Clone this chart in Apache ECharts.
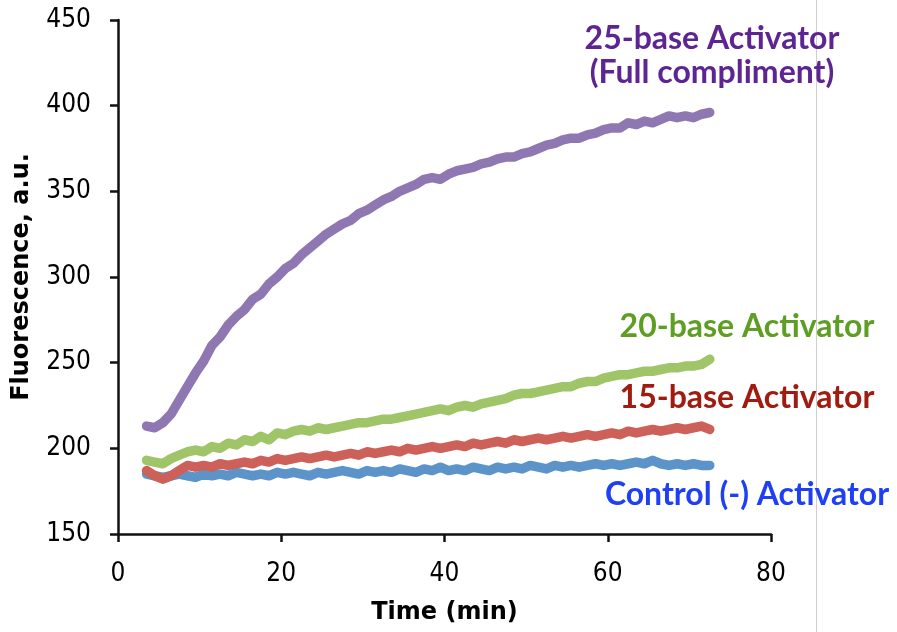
<!DOCTYPE html>
<html>
<head>
<meta charset="utf-8">
<title>Fluorescence vs time</title>
<script src="https://cdn.jsdelivr.net/npm/echarts@6/dist/echarts.min.js"></script>
<style>
  html, body { margin: 0; padding: 0; background: #ffffff; }
  #chart { width: 897px; height: 632px; }
</style>
</head>
<body>
<div id="chart"></div>
<script>
// Sampling times (min)
const minutes = [
  3.5, 4.5, 5.5, 6.5, 7.5, 8.5, 9.5, 10.5, 11.5, 12.5,
  13.5, 14.5, 15.5, 16.5, 17.5, 18.5, 19.5, 20.5, 21.5, 22.5,
  23.5, 24.5, 25.5, 26.5, 27.5, 28.5, 29.5, 30.5, 31.5, 32.5,
  33.5, 34.5, 35.5, 36.5, 37.5, 38.5, 39.5, 40.5, 41.5, 42.5,
  43.5, 44.5, 45.5, 46.5, 47.5, 48.5, 49.5, 50.5, 51.5, 52.5,
  53.5, 54.5, 55.5, 56.5, 57.5, 58.5, 59.5, 60.5, 61.5, 62.5,
  63.5, 64.5, 65.5, 66.5, 67.5, 68.5, 69.5, 70.5, 71.5, 72.5
];

// Fluorescence readings (a.u.)
const controlActivator = [
  185, 184, 183, 184, 185, 184, 183, 185, 184, 185,
  184, 186, 185, 184, 185, 184, 186, 185, 186, 185,
  184, 186, 185, 186, 187, 186, 185, 187, 186, 187,
  186, 188, 187, 186, 188, 187, 189, 187, 188, 187,
  189, 188, 187, 189, 188, 189, 188, 190, 189, 188,
  190, 189, 190, 189, 190, 191, 190, 191, 190, 191,
  192, 191, 193, 191, 190, 191, 190, 191, 190, 190
];
const base15Activator = [
  187, 184, 182, 184, 187, 190, 189, 190, 189, 191,
  190, 191, 192, 191, 193, 192, 194, 193, 194, 195,
  194, 195, 196, 195, 196, 197, 196, 198, 197, 198,
  199, 198, 200, 199, 200, 201, 200, 201, 202, 201,
  203, 202, 203, 204, 203, 205, 204, 205, 206, 205,
  206, 207, 206, 207, 208, 207, 208, 209, 208, 210,
  209, 210, 211, 210, 211, 212, 211, 212, 213, 211
];
const base20Activator = [
  193, 192, 191, 194, 196, 198, 199, 198, 201, 200,
  203, 202, 205, 204, 207, 205, 209, 208, 210, 211,
  210, 212, 211, 212, 213, 214, 215, 215, 216, 217,
  217, 218, 219, 220, 221, 222, 223, 222, 224, 225,
  224, 226, 227, 228, 229, 231, 232, 232, 233, 234,
  235, 236, 236, 238, 239, 239, 241, 242, 243, 243,
  244, 245, 245, 246, 247, 247, 248, 248, 249, 252
];
const base25Activator = [
  213, 212, 215, 220, 228, 236, 244, 251, 260, 265,
  272, 277, 281, 287, 290, 296, 300, 305, 308, 313,
  317, 321, 325, 328, 331, 333, 337, 339, 342, 345,
  347, 350, 352, 354, 357, 358, 357, 360, 362, 363,
  364, 366, 367, 369, 370, 370, 372, 373, 375, 377,
  378, 380, 381, 381, 383, 384, 386, 387, 387, 390,
  389, 391, 390, 392, 394, 393, 394, 393, 395, 396
];

// Axis ticks
const xTicks = [0, 20, 40, 60, 80];
const yTicks = [150, 200, 250, 300, 350, 400, 450];

function pairs(values) {
  return minutes.map((t, i) => [t, values[i]]);
}

function traceSeries(name, values, color) {
  return {
    name: name,
    type: 'line',
    data: pairs(values),
    showSymbol: false,
    smooth: false,
    silent: true,
    lineStyle: { color: color, width: 9.5, cap: 'round', join: 'round' }
  };
}

const tickFont = "'DejaVu Sans Condensed', 'Liberation Sans', sans-serif";
const titleFont = "'DejaVu Sans', sans-serif";
const noteFont = "Lato, 'Open Sans', sans-serif";

const chart = echarts.init(document.getElementById('chart'), null, { renderer: 'canvas' });

chart.setOption({
  animation: false,
  backgroundColor: '#ffffff',
  grid: { left: 118, right: 126, top: 20, bottom: 98, containLabel: false, outerBoundsMode: 'none' },
  xAxis: {
    type: 'value',
    min: xTicks[0],
    max: xTicks[xTicks.length - 1],
    interval: xTicks[1] - xTicks[0],
    name: 'Time (min)',
    nameLocation: 'middle',
    nameGap: 67,
    nameTextStyle: { fontFamily: titleFont, fontWeight: 'bold', fontSize: 24, color: '#000000' },
    axisLine: { show: true, lineStyle: { color: '#111111', width: 2.5 } },
    axisTick: { show: true, inside: false, length: 8, lineStyle: { color: '#111111', width: 2.5 } },
    axisLabel: { fontFamily: tickFont, fontSize: 26, color: '#000000', margin: 27 },
    splitLine: { show: false }
  },
  yAxis: {
    type: 'value',
    min: yTicks[0],
    max: yTicks[yTicks.length - 1],
    interval: yTicks[1] - yTicks[0],
    name: 'Fluorescence, a.u.',
    nameLocation: 'middle',
    nameGap: 84,
    nameRotate: 90,
    nameTextStyle: { fontFamily: titleFont, fontWeight: 'bold', fontSize: 24, color: '#000000' },
    axisLine: { show: true, lineStyle: { color: '#111111', width: 2.5 } },
    axisTick: { show: true, inside: false, length: 8, lineStyle: { color: '#111111', width: 2.5 } },
    axisLabel: { fontFamily: tickFont, fontSize: 26, color: '#000000', margin: 27 },
    splitLine: { show: false }
  },
  series: [
    traceSeries('Control (-) Activator', controlActivator, '#5C94CA'),
    traceSeries('15-base Activator', base15Activator, '#CD6058'),
    traceSeries('20-base Activator', base20Activator, '#A0C468'),
    traceSeries('25-base Activator (Full compliment)', base25Activator, '#8F78B2')
  ],
  graphic: [
    {
      type: 'line',
      shape: { x1: 816.5, y1: 0, x2: 816.5, y2: 632 },
      style: { stroke: '#cfcfcf', lineWidth: 1 },
      silent: true
    },
    {
      type: 'text', x: 712, y: 39,
      style: { text: '25-base Activator', fill: '#5E2592', font: 'bold 32px ' + noteFont, textAlign: 'center', textVerticalAlign: 'middle' }
    },
    {
      type: 'text', x: 712, y: 73,
      style: { text: '(Full compliment)', fill: '#5E2592', font: 'bold 32px ' + noteFont, textAlign: 'center', textVerticalAlign: 'middle' }
    },
    {
      type: 'text', x: 747, y: 327,
      style: { text: '20-base Activator', fill: '#5E9E22', font: 'bold 32px ' + noteFont, textAlign: 'center', textVerticalAlign: 'middle' }
    },
    {
      type: 'text', x: 747, y: 398,
      style: { text: '15-base Activator', fill: '#A11C10', font: 'bold 32px ' + noteFont, textAlign: 'center', textVerticalAlign: 'middle' }
    },
    {
      type: 'text', x: 747, y: 495,
      style: { text: 'Control (-) Activator', fill: '#1E40F2', font: 'bold 32px ' + noteFont, textAlign: 'center', textVerticalAlign: 'middle' }
    }
  ]
});
</script>
</body>
</html>
